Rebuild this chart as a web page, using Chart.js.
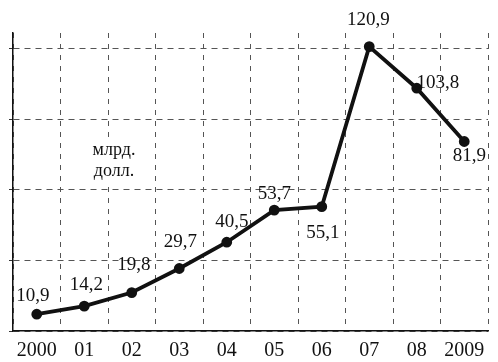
<!DOCTYPE html>
<html>
<head>
<meta charset="utf-8">
<script src="https://cdn.jsdelivr.net/npm/chart.js@4.4.1/dist/chart.umd.min.js"></script>
<style>
  html, body { margin: 0; padding: 0; background: #fff; }
  #wrap { width: 498px; height: 362px; }
</style>
</head>
<body>
<div id="wrap"><canvas id="c" width="498" height="362"></canvas></div>
<script>
// данные: млрд. долл.
const years = ["2000", "01", "02", "03", "04", "05", "06", "07", "08", "2009"];
const values = [10.9, 14.2, 19.8, 29.7, 40.5, 53.7, 55.1, 120.9, 103.8, 81.9];
const yTicks = [4, 33, 62, 91, 120];
const unitLines = ["млрд.", "долл."];

// смещения подписей относительно точек (стиль)
const labelOffsets = [[-4, -18], [2, -21], [2, -28], [1, -26], [5, -20], [0, -16], [1, 26], [-1, -27], [21, -5], [5, 15]];

const SERIF = '"Liberation Serif", "DejaVu Serif", serif';
const fmt = v => v.toFixed(1).replace(".", ",");

// подписи значений + надпись единиц
const valueLabels = {
  id: "valueLabels",
  afterDatasetsDraw(chart) {
    const ctx = chart.ctx, meta = chart.getDatasetMeta(0), a = chart.chartArea;
    ctx.save();
    ctx.textAlign = "center";
    ctx.textBaseline = "middle";
    ctx.font = "19px " + SERIF;
    ctx.fillStyle = "#111";
    meta.data.forEach((pt, i) => {
      const [dx, dy] = labelOffsets[i];
      ctx.fillText(fmt(values[i]), pt.x + dx, pt.y + dy);
    });
    ctx.font = "18px " + SERIF;
    const ux = a.left + 101, uy = a.top + 117;
    ctx.fillStyle = "#fff";
    ctx.fillRect(ux - 26, uy - 11, 52, 43);
    ctx.fillStyle = "#111";
    unitLines.forEach((t, i) => ctx.fillText(t, ux, uy + i * 21));
    ctx.restore();
  }
};

new Chart(document.getElementById("c"), {
  type: "line",
  data: {
    labels: years,
    datasets: [{
      data: values,
      borderColor: "#111",
      borderWidth: 3.8,
      pointRadius: 3.5,
      pointBackgroundColor: "#111",
      pointBorderColor: "#111",
      tension: 0
    }]
  },
  options: {
    responsive: false,
    animation: false,
    devicePixelRatio: 1,
    layout: { padding: { left: 9, right: 10, top: 33, bottom: -9 } },
    plugins: { legend: { display: false }, tooltip: { enabled: false } },
    scales: {
      x: {
        offset: true,
        grid: { color: "#555", lineWidth: 1, drawTicks: false, offset: true },
        border: { display: true, color: "#111", width: 1.5, dash: [5, 6] },
        ticks: { color: "#111", font: { family: SERIF, size: 20 }, padding: 8, maxRotation: 0, autoSkip: false }
      },
      y: {
        min: 4, max: 126.5,
        afterBuildTicks: s => { s.ticks = yTicks.map(v => ({ value: v })); },
        grid: { color: "#555", lineWidth: 1, drawTicks: true, tickLength: 4, tickColor: "#333" },
        border: { display: true, color: "#111", width: 1.5, dash: [6, 5] },
        ticks: { display: false }
      }
    }
  },
  plugins: [valueLabels]
});
</script>
</body>
</html>
